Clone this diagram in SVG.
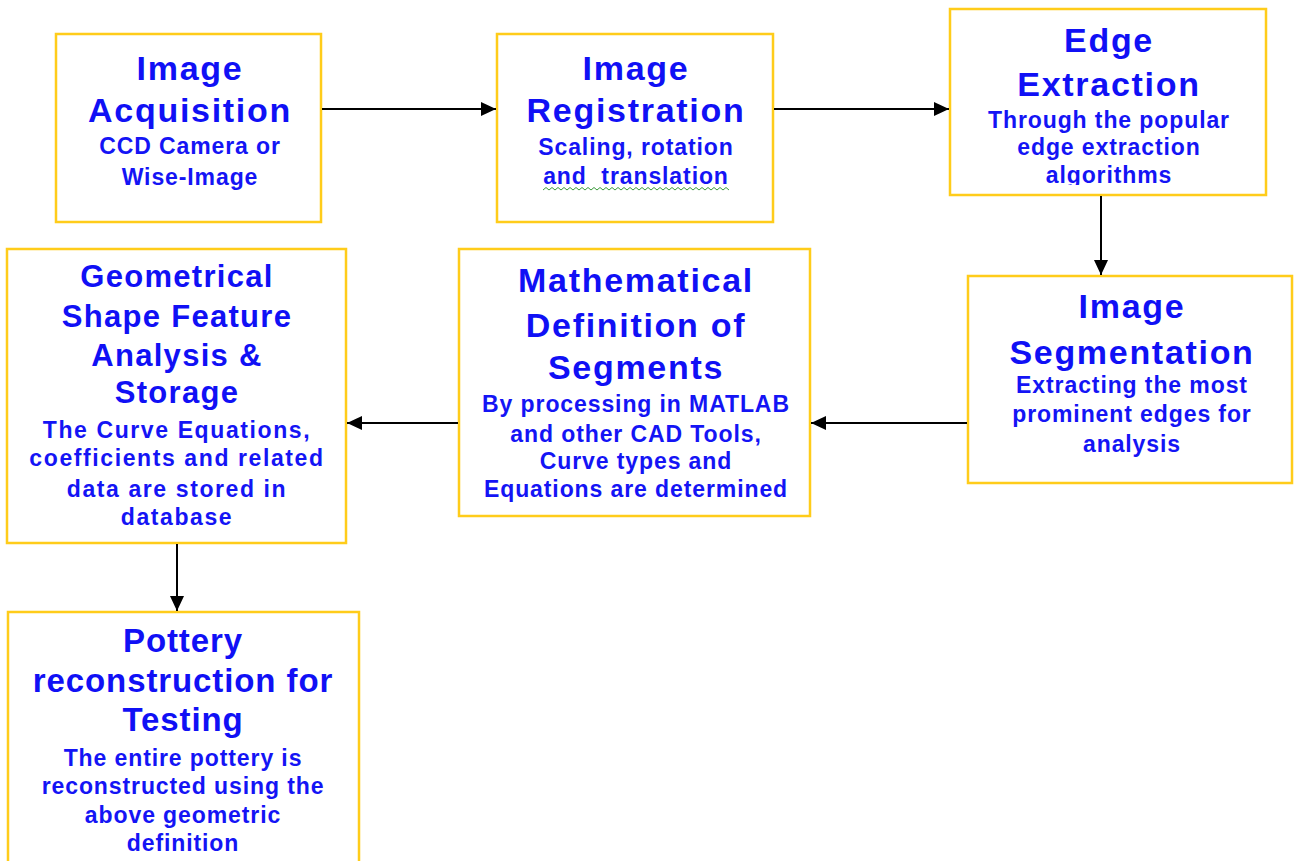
<svg xmlns="http://www.w3.org/2000/svg" width="1294" height="861" viewBox="0 0 1294 861">
<style>
.box{fill:#fff;stroke:#FFCC1A;stroke-width:2.5}
.t{font-family:"Liberation Sans",Arial,sans-serif;font-weight:bold;fill:#1010F5;text-anchor:middle;font-size:34px;letter-spacing:1.7px}
.s{font-family:"Liberation Sans",Arial,sans-serif;font-weight:bold;fill:#1414F5;text-anchor:middle;font-size:23px;letter-spacing:0.9px}
.c{stroke:#000;stroke-width:2;fill:none}
</style>
<defs>
<marker id="ah" markerUnits="userSpaceOnUse" markerWidth="16" markerHeight="14" refX="15" refY="7" orient="auto">
<path d="M0,0 L15,7 L0,14 Z" fill="#000"/>
</marker>
<clipPath id="clip3"><rect x="950" y="9" width="316" height="176"/></clipPath>
</defs>
<rect width="1294" height="861" fill="#fff"/>

<g id="n1">
<rect class="box" x="56" y="34" width="265" height="188"/>
<text class="t" x="190" y="80">Image</text>
<text class="t" x="190" y="122">Acquisition</text>
<text class="s" x="190" y="154">CCD Camera or</text>
<text class="s" x="190" y="185">Wise-Image</text>
</g>

<g id="n2">
<rect class="box" x="497" y="34" width="276" height="188"/>
<text class="t" x="636" y="80">Image</text>
<text class="t" x="636" y="122">Registration</text>
<text class="s" x="636" y="155">Scaling, rotation</text>
<text class="s" x="636" y="184">and&#160; translation</text>
<path d="M543,190 l3,-2.5 l3,2.5 l3,-2.5 l3,2.5 l3,-2.5 l3,2.5 l3,-2.5 l3,2.5 l3,-2.5 l3,2.5 l3,-2.5 l3,2.5 l3,-2.5 l3,2.5 l3,-2.5 l3,2.5 l3,-2.5 l3,2.5 l3,-2.5 l3,2.5 l3,-2.5 l3,2.5 l3,-2.5 l3,2.5 l3,-2.5 l3,2.5 l3,-2.5 l3,2.5 l3,-2.5 l3,2.5 l3,-2.5 l3,2.5 l3,-2.5 l3,2.5 l3,-2.5 l3,2.5 l3,-2.5 l3,2.5 l3,-2.5 l3,2.5 l3,-2.5 l3,2.5 l3,-2.5 l3,2.5 l3,-2.5 l3,2.5 l3,-2.5 l3,2.5 l3,-2.5 l3,2.5 l3,-2.5 l3,2.5 l3,-2.5 l3,2.5 l3,-2.5 l3,2.5 l3,-2.5 l3,2.5 l3,-2.5 l3,2.5 l3,-2.5 l3,2.5" fill="none" stroke="#3a9a3a" stroke-width="1"/>
</g>

<g id="n3">
<rect class="box" x="950" y="9" width="316" height="186"/>
<text class="t" x="1109" y="52">Edge</text>
<text class="t" x="1109" y="96">Extraction</text>
<text class="s" x="1109" y="128">Through the popular</text>
<text class="s" x="1109" y="155">edge extraction</text>
<text class="s" x="1109" y="183" clip-path="url(#clip3)">algorithms</text>
</g>

<g id="n4">
<rect class="box" x="968" y="276" width="324" height="207"/>
<text class="t" x="1132" y="318">Image</text>
<text class="t" x="1132" y="364">Segmentation</text>
<text class="s" x="1132" y="393">Extracting the most</text>
<text class="s" x="1132" y="422">prominent edges for</text>
<text class="s" x="1132" y="452">analysis</text>
</g>

<g id="n5">
<rect class="box" x="459" y="249" width="351" height="267"/>
<text class="t" x="636" y="292">Mathematical</text>
<text class="t" x="636" y="337">Definition of</text>
<text class="t" x="636" y="379">Segments</text>
<text class="s" x="636" y="412">By processing in MATLAB</text>
<text class="s" x="636" y="442">and other CAD Tools,</text>
<text class="s" x="636" y="469">Curve types and</text>
<text class="s" x="636" y="497">Equations are determined</text>
</g>

<g id="n6">
<rect class="box" x="7" y="249" width="339" height="294"/>
<text class="t" x="177" y="287" style="font-size:31px;letter-spacing:1.3px">Geometrical</text>
<text class="t" x="177" y="327" style="font-size:31px;letter-spacing:1.3px">Shape Feature</text>
<text class="t" x="177" y="366" style="font-size:31px;letter-spacing:1.3px">Analysis &amp;</text>
<text class="t" x="177" y="403" style="font-size:31px;letter-spacing:1.3px">Storage</text>
<text class="s" x="177" y="438" style="letter-spacing:1.6px">The Curve Equations,</text>
<text class="s" x="177" y="466" style="letter-spacing:1.6px">coefficients and related</text>
<text class="s" x="177" y="497" style="letter-spacing:1.6px">data are stored in</text>
<text class="s" x="177" y="525" style="letter-spacing:1.6px">database</text>
</g>

<g id="n7">
<rect class="box" x="8" y="612" width="351" height="260"/>
<text class="t" x="183" y="652" style="font-size:33px;letter-spacing:0.9px">Pottery</text>
<text class="t" x="183" y="692" style="font-size:33px;letter-spacing:0.9px">reconstruction for</text>
<text class="t" x="183" y="731" style="font-size:33px;letter-spacing:0.9px">Testing</text>
<text class="s" x="183" y="766">The entire pottery is</text>
<text class="s" x="183" y="794">reconstructed using the</text>
<text class="s" x="183" y="823">above geometric</text>
<text class="s" x="183" y="851">definition</text>
</g>

<g id="connectors">
<line class="c" x1="322" y1="109" x2="496" y2="109" marker-end="url(#ah)"/>
<line class="c" x1="774" y1="109" x2="949" y2="109" marker-end="url(#ah)"/>
<line class="c" x1="1101" y1="196" x2="1101" y2="275" marker-end="url(#ah)"/>
<line class="c" x1="967" y1="423" x2="811" y2="423" marker-end="url(#ah)"/>
<line class="c" x1="458" y1="423" x2="347" y2="423" marker-end="url(#ah)"/>
<line class="c" x1="177" y1="544" x2="177" y2="611" marker-end="url(#ah)"/>
</g>
</svg>
